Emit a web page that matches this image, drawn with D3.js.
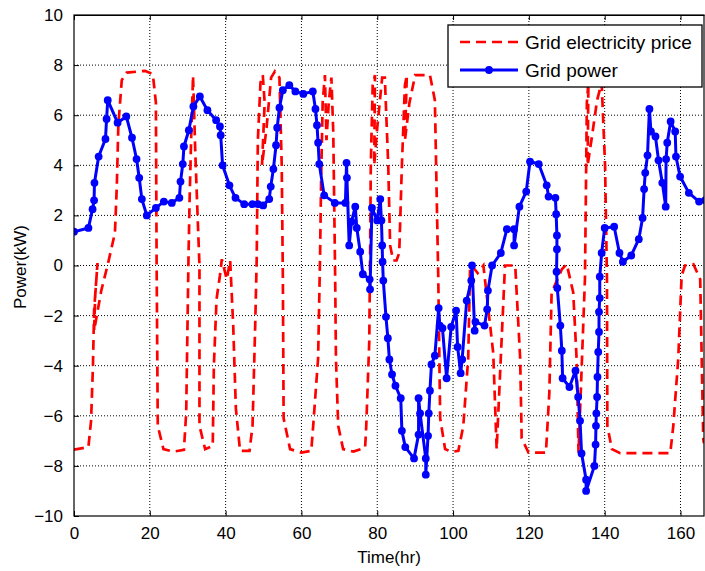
<!DOCTYPE html>
<html><head><meta charset="utf-8">
<script src="https://cdn.jsdelivr.net/npm/d3@7"></script>
<style>body{margin:0;background:#fff}svg{display:block}text{font-family:"Liberation Sans",Arial,sans-serif}</style>
</head><body>
<script>
const xTicks=[0,20,40,60,80,100,120,140,160];
const yTicks=[-10,-8,-6,-4,-2,0,2,4,6,8,10];
const seriesNames=["Grid electricity price","Grid power"];
// Grid power (blue) : [time, kW]
const gridPower=[[0,1.35],[3.8,1.5],[4.9,2.25],[5.3,2.6],[5.4,3.3],[6.5,4.35],[8.3,5.05],[8.6,5.85],[8.9,6.6],[11.5,5.7],[13.8,5.95],[15.3,5.1],[16.5,4.25],[17.2,3.5],[17.9,2.65],[19.2,2.0],[21.6,2.3],[23.7,2.55],[25.8,2.5],[27.8,2.7],[28.1,3.35],[28.7,4.05],[29.0,4.75],[30.3,5.4],[31.5,6.35],[33.2,6.75],[35.2,6.2],[37.5,5.8],[38.5,5.55],[38.7,5.2],[39.2,4.0],[41,3.2],[42.6,2.7],[44.9,2.45],[47.1,2.45],[48.5,2.45],[49.9,2.4],[51.5,2.65],[51.9,3.15],[52.6,3.85],[53.3,4.8],[53.6,5.5],[54.2,6.3],[55.1,7.0],[56.8,7.2],[58.4,6.95],[60.5,6.85],[63,6.95],[63.7,6.25],[64.1,5.6],[64.4,4.9],[64.7,4.05],[66,2.8],[68.8,2.5],[71.6,2.5],[71.9,4.1],[72.0,3.5],[72.6,0.8],[73.2,1.75],[74.2,2.35],[74.6,1.5],[75.5,0.55],[76.2,-0.35],[78,-0.55],[78.1,-0.95],[78.6,2.3],[80,1.8],[80.8,2.65],[81.1,1.8],[81.3,0.8],[81.4,0.15],[81.6,-0.6],[82.3,-2.05],[82.8,-2.9],[83.2,-3.75],[83.9,-4.35],[84.8,-4.8],[86.2,-5.3],[86.5,-6.6],[87.4,-7.25],[89.7,-7.7],[90.9,-6.75],[90.9,-5.3],[91.3,-5.9],[92.8,-7.7],[92.8,-8.35],[93.4,-6.8],[93.6,-5.9],[93.9,-5.0],[94.3,-3.95],[95.2,-3.6],[96.2,-1.7],[96.5,-2.4],[97.2,-2.5],[98.3,-4.5],[99.5,-2.45],[100.8,-1.8],[101.2,-3.25],[102.0,-4.3],[102.4,-3.75],[103.6,-1.4],[104.8,-0.6],[105,0],[105.7,-2.6],[105.9,-2.25],[108.3,-2.4],[109,-1.75],[109.2,-1.0],[110.3,0],[112.6,0.5],[114.2,1.45],[116.1,1.45],[116.1,0.8],[117.5,2.35],[119.3,2.95],[120.3,4.15],[122.6,4.05],[124.7,3.2],[125.2,2.75],[127,2.7],[127.2,2.05],[127.4,1.2],[127.4,0.65],[127.3,-0.25],[127.5,-0.9],[128.3,-2.4],[128.7,-3.4],[128.9,-4.5],[130.7,-4.85],[132.3,-4.2],[133,-5.25],[133.5,-6.2],[133.9,-7.5],[135.1,-8.55],[135.1,-9.0],[137.3,-8.0],[137.6,-7.15],[137.7,-6.4],[137.8,-5.9],[138,-5.25],[138.1,-4.45],[138.3,-3.45],[138.5,-2.65],[138.5,-1.85],[138.7,-1.3],[138.7,-0.45],[139.2,0.5],[140,1.5],[142.5,1.55],[143.9,0.5],[144.8,0.15],[147,0.4],[149,1.05],[150,1.9],[150.4,3.05],[150.7,3.7],[151.3,4.4],[151.8,6.25],[152.2,5.35],[153.4,5.15],[154.2,4.2],[155.2,3.3],[156.1,2.35],[156.2,4.25],[156.5,4.9],[157.4,5.75],[158.6,5.35],[158.8,4.35],[159.9,3.55],[162.2,2.9],[164.9,2.55],[166.5,2.6]];
// Grid electricity price (red dashed, scaled) : [time, value]
const gridPrice=[[0,-7.35],[3.8,-7.25],[4.5,-6.2],[5.0,-4.0],[5.3,-1.8],[6.2,0.1],[5.6,-1.2],[5.3,-2.6],[7.2,-1.0],[9,0.1],[10.8,1.3],[11.3,3.2],[11.7,5.6],[12.6,7.4],[13.9,7.7],[18.7,7.77],[20.8,7.64],[21.6,6.5],[21.8,0],[22.1,-6.4],[23.6,-7.33],[26.2,-7.43],[29,-7.36],[29.6,-5.87],[30.2,0.25],[30.5,2.65],[30.9,5.04],[31.4,7.57],[32.0,4.5],[32.6,2.0],[33.1,0],[33.1,-6.4],[34.6,-7.33],[36.6,-7.2],[36.9,-4.0],[37.6,-1.35],[38.5,-0.4],[39.0,0.25],[40.3,-0.55],[41.2,0.2],[42,-2.4],[42.7,-5.7],[43.8,-7.4],[46.3,-7.4],[47.1,-6.4],[47.8,-2.4],[48.2,0.25],[48.5,5.0],[49.2,7.3],[49.8,7.6],[50.3,6.5],[49.6,4.0],[50.8,5.5],[52.0,7.5],[53.0,7.75],[54.2,7.5],[54.8,4.0],[55.1,-0.5],[55.3,-6.1],[57,-7.33],[60,-7.47],[62.6,-7.4],[63.1,-6.4],[64.4,-3.7],[64.9,0.25],[65.2,3.5],[65.6,6.5],[66.2,7.6],[66.6,5.0],[67.2,6.5],[67.9,7.5],[68.4,5.3],[68.9,-0.5],[69.1,-3.7],[69.7,-6.4],[71,-7.33],[73.7,-7.43],[76.8,-7.27],[77.1,-6.4],[77.9,-3.0],[78.1,0.25],[78.3,4.0],[78.8,7.2],[79.4,7.6],[79.2,4.0],[80.0,5.5],[81.3,7.5],[82,7.5],[82.9,4.0],[83.4,0.8],[84.2,0.2],[85.1,0.2],[85.8,0.5],[86.5,4.0],[87.3,7.2],[87.8,7.6],[87.3,5.0],[88.5,6.5],[90,7.6],[93.9,7.6],[95.2,6.6],[96.1,-0.5],[96.6,-6.1],[97.9,-7.33],[99.6,-7.44],[101.4,-7.4],[102.7,-6.4],[104,-3.7],[104.5,0],[105.4,-0.1],[106.5,-0.3],[108,0],[110.6,-3.5],[111.5,-7.33],[112.5,-4.0],[113.7,0],[116.4,0],[117.7,-3.7],[118.1,-6.9],[119.9,-7.47],[124.5,-7.47],[125.4,-5.07],[126,-1.08],[128.7,-0.15],[130,0.05],[131.7,-1.08],[132.6,-3.74],[133.1,-7.47],[134.8,-0.5],[135.3,6.5],[135.7,7.3],[135.5,4.0],[136.5,5.0],[138,6.6],[139.2,7.3],[140.1,4.0],[140.6,-0.5],[140.7,-6.4],[141.9,-7.33],[144.1,-7.49],[157.3,-7.49],[158.1,-6.4],[159.4,-3.74],[160.3,-0.4],[161.2,0],[163.4,0.05],[165.2,-0.55],[166,-6.9],[166.2,-7.1]];

const W=705,H=571;
const L=74,R=704,T=15,B=516;
const svg=d3.select("body").append("svg").attr("width",W).attr("height",H);
const x=d3.scaleLinear().domain([0,166.2]).range([L,R]);
const y=d3.scaleLinear().domain([-10,10]).range([B,T]);

// grid
const g=svg.append("g");
g.selectAll(".vg").data(xTicks.filter(d=>d>0)).enter().append("line")
 .attr("x1",d=>x(d)).attr("x2",d=>x(d)).attr("y1",T).attr("y2",B)
 .attr("stroke","#000").attr("stroke-width",1).attr("stroke-dasharray","1,2");
g.selectAll(".hg").data(yTicks.filter(d=>d>-10&&d<10)).enter().append("line")
 .attr("x1",L).attr("x2",R).attr("y1",d=>y(d)).attr("y2",d=>y(d))
 .attr("stroke","#000").attr("stroke-width",1).attr("stroke-dasharray","1,2");

svg.append("clipPath").attr("id","clip").append("rect").attr("x",L).attr("y",T).attr("width",R-L).attr("height",B-T);
const plot=svg.append("g").attr("clip-path","url(#clip)");
const line=d3.line().x(d=>x(d[0])).y(d=>y(d[1]));
plot.append("path").attr("d",line(gridPrice)).attr("fill","none").attr("stroke","#ff0000")
 .attr("stroke-width",2.7).attr("stroke-dasharray","10,6");
plot.append("path").attr("d",line(gridPower)).attr("fill","none").attr("stroke","#0000ff").attr("stroke-width",3).attr("stroke-linejoin","round");
plot.selectAll(".pt").data(gridPower).enter().append("circle")
 .attr("cx",d=>x(d[0])).attr("cy",d=>y(d[1])).attr("r",3.9).attr("fill","#0000ff");

// axes (MATLAB box style, inward ticks)
const xAxis=d3.axisBottom(x).tickValues(xTicks).tickSizeInner(-5).tickSizeOuter(0).tickPadding(11);
const yAxis=d3.axisLeft(y).tickValues(yTicks).tickSizeInner(-5).tickSizeOuter(0).tickPadding(11);
const ax=svg.append("g").attr("transform",`translate(0,${B})`).call(xAxis);
const ay=svg.append("g").attr("transform",`translate(${L},0)`).call(yAxis);
svg.append("g").attr("transform",`translate(0,${T})`).call(d3.axisTop(x).tickValues(xTicks).tickSizeInner(-5).tickSizeOuter(0).tickFormat(""));
[ax,ay].forEach(a=>{a.selectAll("text").attr("font-size",17).attr("fill","#000").style("font-family","'Liberation Sans',Arial,sans-serif");a.select(".domain").remove();});
svg.append("rect").attr("x",L).attr("y",T).attr("width",R-L).attr("height",B-T).attr("fill","none").attr("stroke","#000").attr("stroke-width",1.2);

svg.append("text").attr("x",(L+R)/2).attr("y",563).attr("text-anchor","middle").attr("font-size",17).text("Time(hr)");
svg.append("text").attr("transform","translate(26,267) rotate(-90)").attr("text-anchor","middle").attr("font-size",17).text("Power(kW)");

// legend
const lg=svg.append("g");
lg.append("rect").attr("x",448).attr("y",25).attr("width",254).attr("height",62).attr("fill","#fff").attr("stroke","#000").attr("stroke-width",1.3);
lg.append("line").attr("x1",460).attr("x2",518).attr("y1",42).attr("y2",42).attr("stroke","#ff0000").attr("stroke-width",2.7).attr("stroke-dasharray","10,6");
lg.append("line").attr("x1",460).attr("x2",518).attr("y1",70).attr("y2",70).attr("stroke","#0000ff").attr("stroke-width",3);
lg.append("circle").attr("cx",489).attr("cy",70).attr("r",3.9).attr("fill","#0000ff");
lg.selectAll(".lt").data(seriesNames).enter().append("text").attr("x",525).attr("y",(d,i)=>42+28*i).attr("dy","0.35em").attr("font-size",19).text(d=>d);
</script>
</body></html>
